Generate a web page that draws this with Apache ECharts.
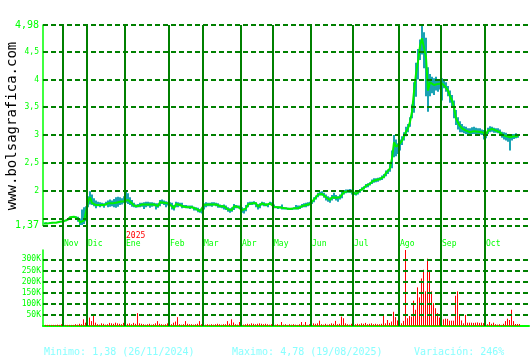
<!DOCTYPE html>
<html><head><meta charset="utf-8">
<script src="https://cdn.jsdelivr.net/npm/echarts@6/dist/echarts.min.js"></script>
<style>html,body{margin:0;padding:0;background:#fff}#c{width:530px;height:360px}</style>
</head><body><div id="c"></div>
<script>
// ---- data ----
const monthNames = ['Oct','Nov','Dic','Ene','Feb','Mar','Abr','May','Jun','Jul','Ago','Sep','Oct'];
const monthYears = ['2024','2024','2024','2025','2025','2025','2025','2025','2025','2025','2025','2025','2025'];
const monthDays  = [10,12,19,22,17,19,16,19,21,23,21,22,17];
const yearLabels = {3:'2025'};
const padDays = 5;

const closes = [
 1.41,1.41,1.41,1.41,1.42,1.42,1.42,1.43,1.44,1.44,
 1.45,1.46,1.48,1.52,1.52,1.53,1.53,1.50,1.43,1.40,1.46,1.62,
 1.80,1.88,1.78,1.76,1.74,1.76,1.74,1.75,1.74,1.77,1.77,1.78,1.77,1.78,1.78,1.79,1.80,1.79,1.81,
 1.84,1.83,1.80,1.77,1.73,1.71,1.72,1.74,1.75,1.75,1.75,1.76,1.75,1.74,1.75,1.74,1.72,1.79,1.80,1.78,1.77,1.77,
 1.76,1.72,1.68,1.76,1.75,1.74,1.73,1.71,1.71,1.70,1.70,1.70,1.68,1.67,1.66,1.63,1.62,
 1.74,1.75,1.75,1.75,1.75,1.76,1.75,1.73,1.72,1.71,1.72,1.70,1.66,1.64,1.65,1.72,1.71,1.71,1.70,
 1.645,1.65,1.68,1.75,1.77,1.77,1.78,1.77,1.71,1.72,1.77,1.76,1.74,1.74,1.77,1.77,
 1.71,1.70,1.70,1.70,1.69,1.68,1.68,1.67,1.67,1.67,1.68,1.68,1.68,1.69,1.72,1.73,1.74,1.75,1.76,
 1.80,1.84,1.88,1.93,1.95,1.94,1.92,1.88,1.85,1.83,1.88,1.91,1.87,1.85,1.88,1.93,1.97,1.98,1.99,2.00,1.98,
 1.95,1.94,1.96,2.00,2.03,2.05,2.09,2.10,2.12,2.16,2.18,2.19,2.19,2.21,2.22,2.25,2.32,2.34,2.40,2.58,2.87,2.79,2.77,
 2.85,2.90,2.98,3.06,3.12,3.24,3.42,3.78,4.10,4.32,4.60,4.74,4.74,4.40,3.80,3.95,3.92,3.90,3.93,3.92,3.91,
 3.93,3.92,3.85,3.80,3.70,3.62,3.50,3.30,3.22,3.16,3.12,3.10,3.08,3.06,3.05,3.06,3.07,3.07,3.06,3.06,3.05,3.04,
 3.01,3.08,3.11,3.11,3.09,3.08,3.08,3.05,3.01,3.00,2.98,2.97,2.96,2.97,2.98,2.98,2.98
];
const highs = [
 1.42,1.43,1.42,1.43,1.43,1.43,1.43,1.44,1.45,1.45,
 1.46,1.47,1.50,1.53,1.53,1.54,1.54,1.53,1.50,1.66,1.70,1.72,
 1.90,1.99,1.93,1.86,1.82,1.80,1.79,1.78,1.77,1.80,1.82,1.84,1.82,1.85,1.88,1.89,1.88,1.86,1.90,
 1.99,1.95,1.88,1.83,1.78,1.75,1.76,1.78,1.78,1.79,1.80,1.80,1.79,1.79,1.78,1.77,1.77,1.83,1.84,1.82,1.81,1.80,
 1.79,1.78,1.74,1.80,1.79,1.78,1.78,1.74,1.74,1.73,1.73,1.73,1.71,1.70,1.69,1.67,1.65,
 1.77,1.79,1.78,1.78,1.79,1.79,1.78,1.77,1.75,1.74,1.75,1.73,1.70,1.68,1.70,1.76,1.74,1.73,1.73,
 1.70,1.68,1.74,1.79,1.80,1.80,1.81,1.79,1.76,1.77,1.80,1.79,1.77,1.76,1.80,1.79,
 1.75,1.72,1.72,1.72,1.75,1.70,1.70,1.69,1.69,1.69,1.70,1.74,1.73,1.73,1.76,1.77,1.78,1.79,1.80,
 1.83,1.88,1.91,1.96,1.98,1.99,1.96,1.93,1.90,1.88,1.92,1.96,1.92,1.90,1.93,2.00,2.01,2.02,2.02,2.03,2.02,
 1.98,1.97,2.00,2.03,2.06,2.08,2.12,2.13,2.15,2.20,2.22,2.22,2.23,2.24,2.27,2.30,2.36,2.38,2.50,2.72,3.00,2.92,2.85,
 2.92,2.98,3.05,3.15,3.20,3.32,3.55,3.95,4.30,4.55,4.72,4.98,4.85,4.75,4.22,4.10,4.05,4.02,4.05,4.00,3.98,
 4.02,3.98,3.95,3.88,3.80,3.72,3.62,3.45,3.32,3.25,3.20,3.16,3.15,3.12,3.12,3.14,3.15,3.13,3.12,3.12,3.10,3.09,
 3.06,3.13,3.16,3.15,3.13,3.12,3.12,3.10,3.06,3.05,3.04,3.02,3.02,3.02,3.02,3.03,3.02
];
const lows = [
 1.41,1.41,1.41,1.41,1.41,1.42,1.42,1.42,1.43,1.43,
 1.44,1.45,1.47,1.50,1.51,1.52,1.52,1.44,1.38,1.38,1.40,1.45,
 1.70,1.75,1.74,1.72,1.68,1.72,1.70,1.72,1.69,1.73,1.70,1.71,1.72,1.70,1.69,1.71,1.74,1.75,1.77,
 1.78,1.76,1.74,1.71,1.70,1.69,1.70,1.70,1.71,1.67,1.70,1.72,1.69,1.71,1.72,1.66,1.69,1.72,1.76,1.74,1.70,1.73,
 1.72,1.66,1.64,1.70,1.70,1.72,1.68,1.69,1.68,1.68,1.67,1.68,1.64,1.64,1.61,1.60,1.59,
 1.66,1.70,1.72,1.72,1.71,1.73,1.72,1.69,1.69,1.68,1.66,1.65,1.62,1.60,1.62,1.65,1.68,1.68,1.67,
 1.60,1.59,1.63,1.70,1.74,1.74,1.75,1.70,1.66,1.68,1.73,1.72,1.72,1.70,1.74,1.73,
 1.68,1.68,1.67,1.68,1.66,1.66,1.66,1.65,1.65,1.65,1.66,1.66,1.66,1.67,1.69,1.70,1.70,1.72,1.73,
 1.76,1.79,1.84,1.88,1.91,1.91,1.87,1.82,1.80,1.78,1.82,1.85,1.82,1.80,1.84,1.86,1.93,1.95,1.96,1.96,1.93,
 1.92,1.91,1.93,1.96,2.00,2.02,2.05,2.06,2.09,2.12,2.14,2.15,2.16,2.18,2.19,2.22,2.26,2.30,2.34,2.40,2.60,2.62,2.66,
 2.72,2.82,2.90,2.98,3.05,3.15,3.30,3.40,3.69,4.00,4.35,4.45,4.20,3.70,3.42,3.70,3.75,3.72,3.80,3.78,3.82,
 3.62,3.84,3.78,3.70,3.58,3.50,3.30,3.18,3.10,3.05,3.05,3.03,3.02,3.00,3.00,3.02,3.02,3.01,3.00,3.01,3.00,2.92,
 2.94,3.02,3.05,3.06,3.04,3.04,3.03,3.00,2.95,2.92,2.90,2.88,2.72,2.90,2.93,2.94,2.95
];
const volumeK = [
 5,5,5,5,5,5,6,5,8,5,
 5,5,5,5,5,8,6,10,8,30,15,52,
 38,22,48,15,8,6,12,10,6,8,14,12,10,15,12,10,8,14,25,
 10,12,8,14,10,58,12,10,8,6,8,10,6,8,12,22,10,8,6,8,12,10,
 8,15,20,40,8,6,8,22,10,8,8,6,8,10,22,8,6,
 6,8,6,8,6,8,10,8,6,8,8,22,10,30,16,8,6,18,8,
 6,8,10,8,12,10,8,10,12,10,8,10,8,6,8,6,
 6,8,5,18,6,8,5,8,6,8,6,5,8,18,6,18,5,8,52,
 12,10,12,24,8,6,10,6,8,12,10,23,8,10,42,35,12,8,6,10,8,
 8,10,8,12,10,14,8,10,12,8,10,8,8,10,53,12,27,14,20,64,40,25,6,
 12,23,345,35,45,42,114,73,174,129,214,253,156,303,245,156,103,80,58,38,12,
 30,33,32,24,24,24,136,156,53,25,12,50,15,15,15,14,15,16,14,15,13,15,
 8,18,10,15,8,6,8,5,10,22,33,27,73,22,9,9,9
];
const priceLabelTicks = [1.37,2,2.5,3,3.5,4,4.5,4.98];
const priceGridLines  = [1.37,1.5,2,2.5,3,3.5,4,4.5,4.98];
const priceMin = 1.37, priceMax = 4.98;
const volTicks = [50,100,150,200,250,300];
const volMax = 342;
const watermark = 'www.bolsagrafica.com';
const footer = ['Minimo: 1,38 (26/11/2024)','Maximo: 4,78 (19/08/2025)','Variación: 246%'];

// ---- build ----
const categories = [];
const monthStart = {};
monthNames.forEach((m, mi) => {
  for (let d = 0; d < monthDays[mi]; d++) {
    if (d === 0 && mi > 0) monthStart[categories.length] = mi;
    categories.push(m + ' ' + monthYears[mi] + ' #' + (d + 1));
  }
});
for (let k = 0; k < padDays; k++) categories.push('pad' + k);
const monthStartIdx = Object.keys(monthStart).map(Number);

const FONT = 'DejaVu Sans Mono';
const GREEN = '#00ff00', DARK = '#008000', TEAL = '#1aa2b4', LINE = '#00f000', RED = '#ff0000';
const L = 43, W = categories.length * 2;

const isStart = (idx) => monthStart[idx] !== undefined;
const dashStyle = { color: DARK, type: [5, 3], width: 2 };

const option = {
  animation: false,
  backgroundColor: '#ffffff',
  grid: [
    { left: L, top: 25, width: W, height: 200.6 },
    { left: L, top: 250, width: W, height: 76 },
    { left: L, top: 25, width: W, height: 301 }
  ],
  xAxis: [
    { type: 'category', gridIndex: 0, data: categories, boundaryGap: true,
      axisLine: { show: false }, axisTick: { show: false }, splitLine: { show: false },
      axisLabel: {
        interval: (idx) => isStart(idx), align: 'left', margin: 6,
        formatter: (val, idx) => {
          const mi = monthStart[idx];
          const y = yearLabels[mi] || ' ';
          return '{y|' + y + '}\n{m|' + monthNames[mi] + '}';
        },
        rich: {
          y: { color: RED, fontSize: 8, fontFamily: FONT, lineHeight: 8.5 },
          m: { color: GREEN, fontSize: 8, fontFamily: FONT, lineHeight: 8.5 }
        }
      } },
    { type: 'category', gridIndex: 1, data: categories, boundaryGap: true,
      axisLine: { show: true, lineStyle: { color: GREEN, width: 2 } },
      axisTick: { show: false }, axisLabel: { show: false }, splitLine: { show: false } },
    { type: 'value', gridIndex: 2, min: 0, max: categories.length, show: false }
  ],
  yAxis: [
    { type: 'value', gridIndex: 0, min: priceMin, max: priceMax,
      axisLine: { show: true, lineStyle: { color: GREEN, width: 1.5 } },
      axisTick: { show: false }, splitLine: { show: false },
      axisLabel: {
        customValues: priceLabelTicks, margin: 4,
        formatter: (v) => {
          const s = String(v).replace('.', ',');
          return (v === priceMin || v === priceMax) ? '{b|' + s + '}' : '{s|' + s + '}';
        },
        rich: {
          b: { color: GREEN, fontSize: 10, fontFamily: FONT },
          s: { color: GREEN, fontSize: 8, fontFamily: FONT }
        }
      } },
    { type: 'value', gridIndex: 1, min: 0, max: volMax,
      axisLine: { show: true, lineStyle: { color: GREEN, width: 1.5 } },
      axisTick: { show: false }, splitLine: { show: false },
      axisLabel: { customValues: volTicks, margin: 2, color: GREEN, fontSize: 8, fontFamily: FONT,
        formatter: (v) => v + 'K' } },
    { type: 'value', gridIndex: 2, show: false, min: 0, max: 1 }
  ],
  series: [
    { type: 'line', xAxisIndex: 2, yAxisIndex: 2, z: 1, data: [[0, -1]], symbol: 'none',
      lineStyle: { width: 0 }, silent: true,
      markLine: { silent: true, symbol: ['none', 'none'], label: { show: false },
        lineStyle: { color: DARK, type: 'solid', width: 2 },
        data: monthStartIdx.map(i => ({ xAxis: i })) } },
    { type: 'custom', xAxisIndex: 0, yAxisIndex: 0, z: 2,
      data: closes.map((c, i) => [i, lows[i], highs[i]]),
      encode: { x: 0, y: [1, 2] },
      itemStyle: { color: TEAL },
      renderItem: (params, api) => {
        const i = api.value(0);
        const a = api.coord([i, api.value(1)]);
        const b = api.coord([i, api.value(2)]);
        return { type: 'line', shape: { x1: a[0], y1: a[1], x2: b[0], y2: b[1] },
                 style: { stroke: TEAL, lineWidth: 2 } };
      },
      markLine: { silent: true, symbol: ['none', 'none'], label: { show: false },
        lineStyle: dashStyle, data: priceGridLines.map(v => ({ yAxis: v })) }
    },
    { type: 'line', xAxisIndex: 0, yAxisIndex: 0, z: 3, data: closes,
      symbol: 'none', lineStyle: { color: LINE, width: 2 } },
    { type: 'custom', xAxisIndex: 1, yAxisIndex: 1, z: 3,
      data: volumeK.map((v, i) => [i, v]),
      encode: { x: 0, y: 1 },
      itemStyle: { color: RED },
      renderItem: (params, api) => {
        const i = api.value(0);
        const top = api.coord([i, api.value(1)]);
        const base = api.coord([i, 0]);
        const y0 = Math.max(top[1], params.coordSys.y);
        const x = Math.round(top[0]) + 1.5;
        return { type: 'line', shape: { x1: x, y1: base[1], x2: x, y2: y0 },
                 style: { stroke: RED, lineWidth: 1 } };
      },
      markLine: { silent: true, symbol: ['none', 'none'], label: { show: false },
        lineStyle: dashStyle, data: volTicks.map(v => ({ yAxis: v })) }
    }
  ],
  graphic: [
    { type: 'text', x: 12, y: 126, rotation: Math.PI / 2,
      style: { text: watermark, font: '14px "' + FONT + '"', fill: '#000000', align: 'center', verticalAlign: 'middle' } },
    { type: 'text', x: 44, y: 352, style: { text: footer[0], font: '10px "' + FONT + '"', fill: '#88ffff', verticalAlign: 'middle' } },
    { type: 'text', x: 232, y: 352, style: { text: footer[1], font: '10px "' + FONT + '"', fill: '#88ffff', verticalAlign: 'middle' } },
    { type: 'text', x: 414, y: 352, style: { text: footer[2], font: '10px "' + FONT + '"', fill: '#88ffff', verticalAlign: 'middle' } }
  ]
};
const chart = echarts.init(document.getElementById('c'), null, { renderer: 'canvas' });
chart.setOption(option);
</script>
</body></html>
